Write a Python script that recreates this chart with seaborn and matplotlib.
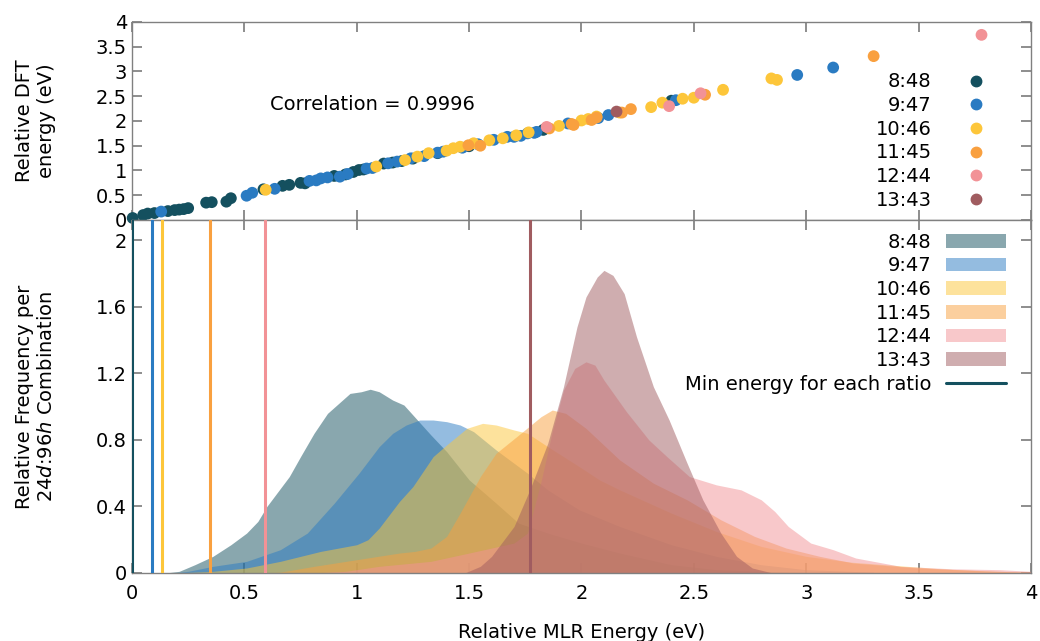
import numpy as np
import pandas as pd
import matplotlib
matplotlib.use("Agg")
import matplotlib.pyplot as plt
import seaborn as sns
from matplotlib.ticker import FuncFormatter
from matplotlib.patches import Patch
from matplotlib.lines import Line2D

ratios = ["8:48", "9:47", "10:46", "11:45", "12:44", "13:43"]
colors = ["#14505f", "#2a7bc2", "#fdc63a", "#f9a03f", "#f29296", "#a05c60"]

# scatter: MLR energy (x) vs DFT energy (y), per ratio
sc_848_x = [0.003, 0.05, 0.07, 0.10, 0.16, 0.19, 0.21, 0.23, 0.25, 0.33, 0.355, 0.42, 0.44, 0.585, 0.67,
            0.70, 0.75, 0.77, 0.90, 0.95, 0.985, 1.01, 1.03, 1.12, 1.16, 1.20, 1.25, 1.36, 1.50, 1.83, 2.40]
sc_848_y = [0.04, 0.10, 0.13, 0.14, 0.18, 0.20, 0.21, 0.22, 0.24, 0.35, 0.36, 0.37, 0.44, 0.62, 0.69,
            0.71, 0.75, 0.74, 0.89, 0.92, 0.97, 1.01, 1.02, 1.14, 1.16, 1.19, 1.24, 1.35, 1.49, 1.82, 2.41]
sc_947_x = [0.13, 0.51, 0.535, 0.635, 0.79, 0.82, 0.84, 0.87, 0.925, 0.96, 1.044, 1.07, 1.14, 1.18, 1.24,
            1.30, 1.36, 1.385, 1.47, 1.54, 1.61, 1.67, 1.70, 1.73, 1.76, 1.79, 1.80, 1.94, 2.075, 2.12,
            2.42, 2.96, 3.12]
sc_947_y = [0.17, 0.49, 0.55, 0.63, 0.79, 0.80, 0.84, 0.86, 0.875, 0.93, 1.04, 1.05, 1.145, 1.18, 1.245,
            1.29, 1.36, 1.38, 1.46, 1.53, 1.62, 1.68, 1.68, 1.70, 1.75, 1.76, 1.78, 1.95, 2.06, 2.12,
            2.42, 2.93, 3.08]
sc_1046_x = [0.595, 1.087, 1.215, 1.27, 1.32, 1.40, 1.43, 1.46, 1.52, 1.59, 1.65, 1.71, 1.765, 1.90, 2.00,
             2.03, 2.067, 2.17, 2.31, 2.36, 2.45, 2.50, 2.63, 2.845, 2.87]
sc_1046_y = [0.61, 1.08, 1.21, 1.28, 1.35, 1.40, 1.45, 1.48, 1.55, 1.61, 1.65, 1.71, 1.77, 1.90, 2.01,
             2.04, 2.09, 2.17, 2.28, 2.37, 2.45, 2.47, 2.63, 2.86, 2.83]
sc_1145_x = [1.497, 1.55, 1.857, 1.956, 1.965, 2.045, 2.067, 2.18, 2.22, 2.55, 3.30]
sc_1145_y = [1.51, 1.50, 1.85, 1.94, 1.92, 2.02, 2.07, 2.17, 2.24, 2.53, 3.31]
sc_1244_x = [1.845, 2.39, 2.53, 3.78]
sc_1244_y = [1.88, 2.30, 2.56, 3.74]
sc_1343_x = [2.156]
sc_1343_y = [2.19]

# relative frequency curves per ratio
d_848_x = [0.15, 0.21, 0.28, 0.36, 0.44, 0.51, 0.56, 0.60, 0.65, 0.70, 0.75, 0.81, 0.87, 0.92, 0.97, 1.02,
           1.06, 1.10, 1.16, 1.21, 1.27, 1.33, 1.40, 1.50, 1.62, 1.72, 1.85, 2.00, 2.17, 2.40, 2.60, 2.80,
           3.00, 3.20]
d_848_y = [0, 0.01, 0.05, 0.10, 0.17, 0.24, 0.31, 0.40, 0.49, 0.58, 0.70, 0.84, 0.96, 1.02, 1.08, 1.09,
           1.105, 1.09, 1.04, 1.01, 0.92, 0.83, 0.73, 0.56, 0.42, 0.30, 0.24, 0.18, 0.12, 0.05, 0.02, 0.01,
           0.003, 0]
d_947_x = [0.18, 0.25, 0.36, 0.51, 0.66, 0.78, 0.90, 1.01, 1.10, 1.16, 1.22, 1.28, 1.34, 1.40, 1.46, 1.52,
           1.62, 1.76, 1.85, 1.99, 2.17, 2.40, 2.60, 2.80, 3.00, 3.30]
d_947_y = [0, 0.01, 0.04, 0.07, 0.14, 0.24, 0.42, 0.60, 0.76, 0.84, 0.89, 0.92, 0.92, 0.91, 0.89, 0.85,
           0.74, 0.60, 0.50, 0.38, 0.28, 0.17, 0.10, 0.05, 0.02, 0.005]
d_1046_x = [0.20, 0.36, 0.51, 0.66, 0.84, 1.00, 1.05, 1.10, 1.19, 1.25, 1.34, 1.40, 1.49, 1.56, 1.62, 1.70,
            1.76, 1.85, 1.99, 2.08, 2.17, 2.40, 2.60, 2.80, 3.00, 3.20, 3.40, 3.60, 3.85, 4.00]
d_1046_y = [0, 0.01, 0.03, 0.07, 0.13, 0.17, 0.20, 0.27, 0.43, 0.52, 0.70, 0.77, 0.87, 0.90, 0.89, 0.86,
            0.84, 0.76, 0.64, 0.56, 0.50, 0.36, 0.25, 0.16, 0.10, 0.065, 0.045, 0.025, 0.01, 0.005]
d_1145_x = [0.55, 0.66, 0.81, 1.00, 1.19, 1.26, 1.33, 1.40, 1.46, 1.55, 1.62, 1.73, 1.82, 1.87, 1.93, 2.02,
            2.17, 2.32, 2.47, 2.62, 2.77, 2.91, 3.06, 3.21, 3.50, 3.80, 4.00]
d_1145_y = [0, 0.005, 0.04, 0.08, 0.12, 0.13, 0.15, 0.22, 0.36, 0.58, 0.72, 0.84, 0.94, 0.98, 0.96, 0.87,
            0.68, 0.54, 0.44, 0.32, 0.22, 0.15, 0.10, 0.06, 0.03, 0.012, 0.005]
d_1244_x = [0.80, 0.95, 1.10, 1.33, 1.50, 1.60, 1.70, 1.76, 1.82, 1.87, 1.92, 1.97, 2.02, 2.06, 2.10, 2.20,
            2.30, 2.38, 2.48, 2.60, 2.71, 2.80, 2.86, 2.92, 3.02, 3.12, 3.22, 3.42, 3.65, 3.86, 4.00]
d_1244_y = [0, 0.01, 0.04, 0.07, 0.12, 0.15, 0.18, 0.24, 0.55, 0.85, 1.10, 1.23, 1.27, 1.25, 1.16, 0.97,
            0.80, 0.70, 0.58, 0.53, 0.50, 0.44, 0.37, 0.28, 0.18, 0.14, 0.09, 0.04, 0.025, 0.02, 0.01]
d_1343_x = [1.48, 1.55, 1.60, 1.70, 1.77, 1.85, 1.92, 1.98, 2.02, 2.07, 2.10, 2.14, 2.19, 2.245, 2.32, 2.39,
            2.47, 2.54, 2.62, 2.69, 2.76, 2.85]
d_1343_y = [0, 0.04, 0.10, 0.28, 0.50, 0.78, 1.12, 1.48, 1.66, 1.78, 1.82, 1.79, 1.68, 1.42, 1.12, 0.92,
            0.66, 0.44, 0.24, 0.10, 0.03, 0]

min_energy = [0.0, 0.09, 0.133, 0.347, 0.594, 1.77]

sns.set_theme(style="ticks", rc={
    "xtick.direction": "in", "ytick.direction": "in",
    "xtick.top": True, "ytick.right": True,
    "xtick.major.size": 7, "ytick.major.size": 7,
    "xtick.color": "#808080", "ytick.color": "#808080",
    "xtick.labelcolor": "black", "ytick.labelcolor": "black",
    "axes.edgecolor": "#808080", "axes.linewidth": 1.0,
    "text.color": "black", "axes.labelcolor": "black",
})
plt.rcParams["font.family"] = ["DejaVu Sans"]
plt.rcParams["font.size"] = 14
plt.rcParams["xtick.labelsize"] = 14
plt.rcParams["ytick.labelsize"] = 14
plt.rcParams["axes.labelsize"] = 14
plt.rcParams["legend.fontsize"] = 14
plt.rcParams["mathtext.fontset"] = "dejavusans"

fig = plt.figure(figsize=(10.4, 6.41), dpi=100)
ax1 = fig.add_axes([0.1269, 0.6568, 0.8644, 0.3089])
ax2 = fig.add_axes([0.1269, 0.1061, 0.8644, 0.5507])

fmt = FuncFormatter(lambda v, p: "%g" % round(v, 2))

# top panel: scatter
sc_x = [sc_848_x, sc_947_x, sc_1046_x, sc_1145_x, sc_1244_x, sc_1343_x]
sc_y = [sc_848_y, sc_947_y, sc_1046_y, sc_1145_y, sc_1244_y, sc_1343_y]
df = pd.concat([pd.DataFrame({"mlr": x, "dft": y, "ratio": r}) for x, y, r in zip(sc_x, sc_y, ratios)],
               ignore_index=True)
sns.scatterplot(data=df, x="mlr", y="dft", hue="ratio", hue_order=ratios, palette=colors,
                s=72, linewidth=0, alpha=1, legend=False, ax=ax1, clip_on=False, zorder=3)
ax1.set_xlim(0, 4)
ax1.set_ylim(0, 4)
ax1.set_xticks(np.arange(0, 4.01, 0.5))
ax1.set_yticks(np.arange(0, 4.01, 0.5))
ax1.set_xticklabels([])
ax1.yaxis.set_major_formatter(fmt)
ax1.set_xlabel("")
ax1.set_ylabel("Relative DFT\nenergy (eV)")
ax1.yaxis.set_label_coords(-0.085, 0.5)
ax1.text(1.07, 2.34, "Correlation = 0.9996", ha="center", va="center")
h1 = [Line2D([], [], marker="o", linestyle="none", color=c, markersize=7.5) for c in colors]
ax1.legend(h1, ratios, loc="upper right", bbox_to_anchor=(0.972, 0.745), frameon=False,
           markerfirst=False, handlelength=3.1, handletextpad=0.72, labelspacing=0.24,
           borderpad=0, borderaxespad=0)

# bottom panel: frequency distributions
d_x = [d_848_x, d_947_x, d_1046_x, d_1145_x, d_1244_x, d_1343_x]
d_y = [d_848_y, d_947_y, d_1046_y, d_1145_y, d_1244_y, d_1343_y]
for x, y, c in zip(d_x, d_y, colors):
    ax2.fill_between(x, 0, y, color=c, alpha=0.5, linewidth=0)
for e, c in zip(min_energy, colors):
    ax2.axvline(e, color=c, lw=2.2, zorder=4)
ax2.set_xlim(0, 4)
ax2.set_ylim(0, 2.123)
ax2.set_xticks(np.arange(0, 4.01, 0.5))
ax2.set_yticks(np.arange(0, 2.01, 0.4))
ax2.xaxis.set_major_formatter(fmt)
ax2.yaxis.set_major_formatter(fmt)
ax2.tick_params(axis="x", pad=8)
ax2.set_xlabel("Relative MLR Energy (eV)", labelpad=14)
ax2.set_ylabel("Relative Frequency per\n24$\\mathit{d}$:96$\\mathit{h}$ Combination")
ax2.yaxis.set_label_coords(-0.085, 0.5)
h2 = [Patch(facecolor=c, alpha=0.5, edgecolor="none") for c in colors]
h2.append(Line2D([], [], color=colors[0], lw=2.2))
ax2.legend(h2, ratios + ["Min energy for each ratio"], loc="upper right", bbox_to_anchor=(0.972, 0.964),
           frameon=False, markerfirst=False, handlelength=3.1, handletextpad=0.72, labelspacing=0.24,
           borderpad=0, borderaxespad=0)

fig.savefig("out.png", dpi=100)
